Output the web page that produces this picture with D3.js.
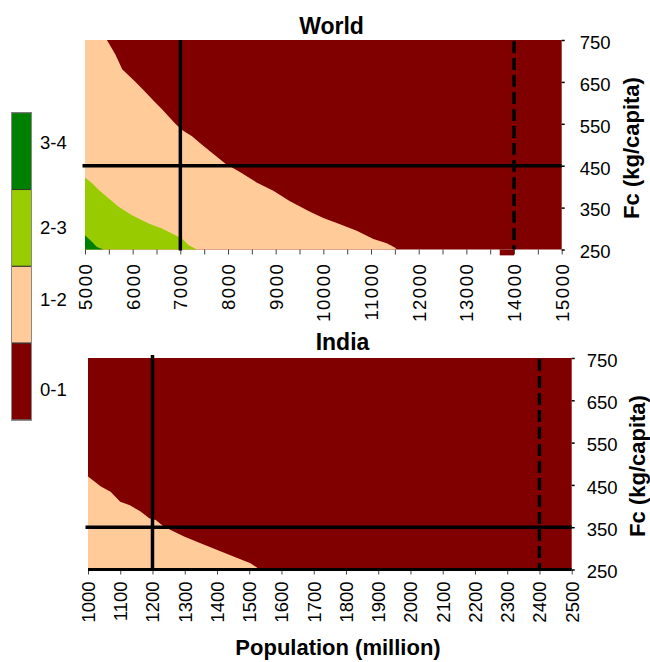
<!DOCTYPE html>
<html>
<head>
<meta charset="utf-8">
<script src="https://cdn.jsdelivr.net/npm/d3@7"></script>
<style>
  html, body { margin: 0; padding: 0; background: #fff; }
  svg { display: block; font-family: "Liberation Sans", Arial, sans-serif; }
</style>
</head>
<body>
<svg id="chart" width="650" height="662"></svg>
<script>
// Ratio classes, from highest to lowest
const classLabels = ["3-4", "2-3", "1-2", "0-1"];
const classColors = ["#008000", "#99cc00", "#ffcc99", "#800000"];

// World: population axis (million) and per-capita food axis (kg/capita)
const worldPopTicks = [5000, 6000, 7000, 8000, 9000, 10000, 11000, 12000, 13000, 14000, 15000];
const worldPopMinor = [5500, 6500, 7500, 8500, 9500, 10500, 11500, 12500, 13500, 14500];
const fcTicks = [250, 350, 450, 550, 650, 750];

// Class boundaries: [Fc, population] — cells left of the edge are in the higher class
const worldEdge01 = [[750, 5460], [715, 5640], [680, 5780], [650, 6060], [630, 6230], [605, 6440],
  [585, 6615], [550, 6895], [535, 7035], [520, 7245], [500, 7455], [455, 7940], [435, 8250],
  [410, 8600], [390, 8950], [365, 9300], [340, 9720], [325, 10000], [310, 10350], [295, 10700],
  [275, 11050], [265, 11330], [255, 11500], [250, 11540]];
const worldEdge12 = [[422, 5000], [408, 5150], [392, 5290], [372, 5500], [352, 5705], [332, 5985],
  [312, 6335], [300, 6615], [284, 6895], [276, 7035], [260, 7175], [250, 7350]];
const worldEdge23 = [[284, 5000], [268, 5150], [256, 5250], [250, 5390]];
// one stray 0-1 cell below the grid
const worldStrayCell = [13700, 14000, 236, 250];

// Reference lines: current population / Fc, projected population
const worldNowPop = 7000, worldNowFc = 450, worldFuturePop = 14000;

// India
const indiaPopTicks = [1000, 1100, 1200, 1300, 1400, 1500, 1600, 1700, 1800, 1900, 2000, 2100, 2200, 2300, 2400, 2500];
const indiaEdge01 = [[470, 1000], [458, 1020], [446, 1040], [434, 1070], [410, 1100], [402, 1130],
  [387, 1163], [371, 1190], [367, 1210], [351, 1236], [328, 1298], [312, 1349], [296, 1401],
  [280, 1453], [265, 1504], [250, 1532]];
const indiaNowPop = 1200, indiaNowFc = 350, indiaFuturePop = 2400;

const svg = d3.select("#chart");

function panel(cfg) {
  const x = d3.scaleLinear().domain(cfg.popDomain).range(cfg.xRange);
  const y = d3.scaleLinear().domain([250, 750]).range(cfg.yRange);
  const g = svg.append("g");
  const [x0, x1] = cfg.xRange, [yb, yt] = cfg.yRange;

  // lowest class fills the whole grid
  g.append("rect").attr("x", x0).attr("y", yt).attr("width", x1 - x0).attr("height", yb - yt)
    .attr("fill", classColors[3]);

  const line = d3.line().x(d => x(d[1])).y(d => y(d[0]));
  cfg.edges.forEach(e => {
    const pts = [[e.edge[0][0], cfg.popDomain[0]], ...e.edge, [250, cfg.popDomain[0]]];
    g.append("path").attr("d", line(pts) + "Z").attr("fill", e.color);
  });

  if (cfg.stray) {
    const s = cfg.stray;
    g.append("rect").attr("x", x(s[0])).attr("y", y(s[3]))
      .attr("width", x(s[1]) - x(s[0])).attr("height", y(s[2]) - y(s[3]))
      .attr("fill", classColors[3]);
  }

  // x axis (rotated labels)
  const xa = g.append("g").attr("transform", `translate(0,${yb})`)
    .call(d3.axisBottom(x).tickValues(cfg.popTicks.concat(cfg.popMinor || []))
      .tickSize(5).tickFormat(d => cfg.popTicks.includes(d) ? d : ""));
  xa.select(".domain").remove();
  xa.selectAll(".tick line").attr("stroke", "#444");
  xa.selectAll(".tick text")
    .attr("transform", "rotate(-90)")
    .attr("x", -cfg.xLabelGap).attr("y", 0).attr("dy", "0.35em")
    .attr("text-anchor", "end")
    .attr("font-size", 18.5).attr("fill", "#000")
    .style("letter-spacing", cfg.xLetter + "px");

  // right axis
  const ya = g.append("g").attr("transform", `translate(${x1},0)`)
    .call(d3.axisRight(y).tickValues(fcTicks).tickSize(3).tickPadding(cfg.yPad));
  ya.select(".domain").remove();
  ya.selectAll(".tick line").attr("stroke", "#000").attr("stroke-width", 1.5);
  ya.selectAll(".tick text").attr("font-size", 18.5).attr("fill", "#000")
    .attr("font-family", "Liberation Sans, Arial, sans-serif")
    .attr("dy", "0.45em");

  // y axis title
  g.append("text")
    .attr("transform", `translate(${cfg.yTitle[0]},${cfg.yTitle[1]}) rotate(-90)`)
    .attr("text-anchor", "middle").attr("dy", "0.35em")
    .attr("font-size", 22).attr("font-weight", "bold")
    .text("Fc (kg/capita)");

  // panel title
  g.append("text").attr("x", cfg.title[1]).attr("y", cfg.title[2])
    .attr("text-anchor", "middle").attr("font-size", 23).attr("font-weight", "bold")
    .text(cfg.title[0]);

  // reference lines
  g.append("line").attr("x1", x0 - 2.5).attr("x2", x1).attr("y1", y(cfg.nowFc)).attr("y2", y(cfg.nowFc))
    .attr("stroke", "#000").attr("stroke-width", 3.5);
  g.append("line").attr("x1", x(cfg.nowPop)).attr("x2", x(cfg.nowPop))
    .attr("y1", yt - cfg.vExtend).attr("y2", yb + 1)
    .attr("stroke", "#000").attr("stroke-width", 3.5);
  g.append("line").attr("x1", x(cfg.futurePop)).attr("x2", x(cfg.futurePop))
    .attr("y1", yt + 1).attr("y2", yb)
    .attr("stroke", "#000").attr("stroke-width", 3.5).attr("stroke-dasharray", "12,5");

  if (cfg.baseLine) {
    g.append("line").attr("x1", x0).attr("x2", x1).attr("y1", yb).attr("y2", yb)
      .attr("stroke", "#000").attr("stroke-width", 3);
  }
  return g;
}

panel({
  popDomain: [5000, 15000], xRange: [85, 561.7], yRange: [249.5, 40],
  popTicks: worldPopTicks, popMinor: worldPopMinor,
  edges: [
    { edge: worldEdge01, color: classColors[2] },
    { edge: worldEdge12, color: classColors[1] },
    { edge: worldEdge23, color: classColors[0] }
  ],
  stray: worldStrayCell,
  nowPop: worldNowPop, nowFc: worldNowFc, futurePop: worldFuturePop,
  xLabelGap: 13, xLetter: 1.6, yPad: 15, vExtend: 0,
  yTitle: [631.5, 148], title: ["World", 331.5, 34], baseLine: false
});

panel({
  popDomain: [1000, 2500], xRange: [88, 571.7], yRange: [569.5, 358],
  popTicks: indiaPopTicks, popMinor: [],
  edges: [{ edge: indiaEdge01, color: classColors[2] }],
  nowPop: indiaNowPop, nowFc: indiaNowFc, futurePop: indiaFuturePop,
  xLabelGap: 12, xLetter: 0, yPad: 12, vExtend: 3,
  yTitle: [637, 466], title: ["India", 342.5, 350], baseLine: true
});

// x axis title
svg.append("text").attr("x", 338).attr("y", 655).attr("text-anchor", "middle")
  .attr("font-size", 22).attr("font-weight", "bold").text("Population (million)");

// legend
const legend = svg.append("g");
const legY = d3.scaleBand().domain(classLabels).range([112.7, 420]).paddingInner(0);
const legendLabelY = { "3-4": 143, "2-3": 228, "1-2": 300, "0-1": 390 };
legend.selectAll("rect").data(classLabels).join("rect")
  .attr("x", 11.5).attr("y", d => legY(d)).attr("width", 20).attr("height", legY.bandwidth())
  .attr("fill", (d, i) => classColors[i]).attr("stroke", "#333").attr("stroke-width", 1);
legend.append("rect").attr("x", 11.5).attr("y", 112.7).attr("width", 20).attr("height", 420 - 112.7)
  .attr("fill", "none").attr("stroke", "#888").attr("stroke-width", 1);
legend.selectAll("text").data(classLabels).join("text")
  .attr("x", 40).attr("y", d => legendLabelY[d]).attr("dy", "0.35em")
  .attr("font-size", 18.5).attr("fill", "#000").text(d => d);
</script>
</body>
</html>
